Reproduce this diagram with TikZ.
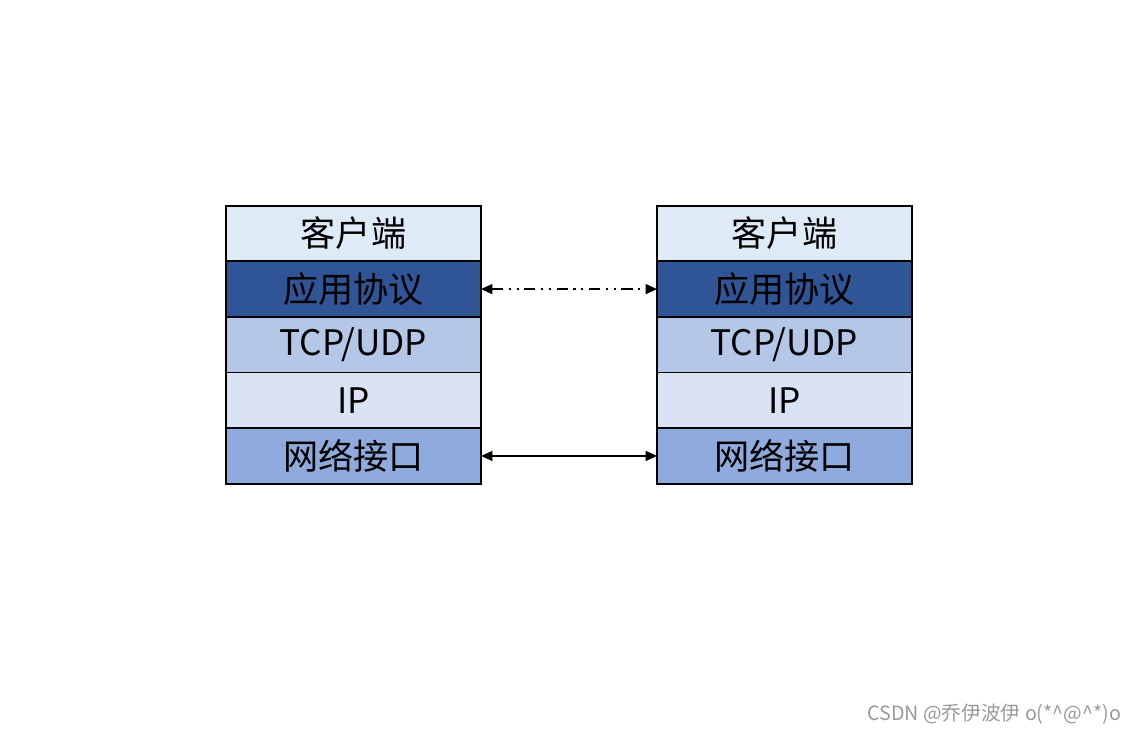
\documentclass[tikz,border=0pt]{standalone}
\usepackage{fontspec}
\setmainfont{Noto Sans CJK SC}
\usepackage{xcolor}
\usepackage{tikz}
\usetikzlibrary{arrows.meta,positioning}
\definecolor{clientc}{HTML}{DEEAF6}
\definecolor{appc}{HTML}{2F5597}
\definecolor{tcpc}{HTML}{B4C7E7}
\definecolor{ipc}{HTML}{DAE3F3}
\definecolor{netc}{HTML}{8FAADC}

\begin{document}
\begin{tikzpicture}[x=0.025cm,y=-0.025cm]
	\tikzstyle{layer} = [draw = black, line width = 1.2pt, minimum width = 6.375cm, minimum height = 1.39cm, inner sep = 0pt, outer sep = 0pt, font = \fontsize{25}{30}\selectfont]
	\tikzstyle{link} = [line width = 1.1pt, {Triangle[length=8pt,width=7pt]}-{Triangle[length=8pt,width=7pt]}]
\useasboundingbox (0,0) rectangle (1139,734);
% left stack
\node[layer, fill = clientc] (l1) at (353.5, 233.5) {客户端};
\node[layer, fill = appc, below = 0pt of l1] (l2) {应用协议};
\node[layer, fill = tcpc, below = 0pt of l2] (l3) {TCP/UDP};
\node[layer, fill = ipc, below = 0pt of l3] (l4) {IP};
\node[layer, fill = netc, below = 0pt of l4] (l5) {网络接口};
% right stack
\node[layer, fill = clientc] (r1) at (784.5, 233.5) {客户端};
\node[layer, fill = appc, below = 0pt of r1] (r2) {应用协议};
\node[layer, fill = tcpc, below = 0pt of r2] (r3) {TCP/UDP};
\node[layer, fill = ipc, below = 0pt of r3] (r4) {IP};
\node[layer, fill = netc, below = 0pt of r4] (r5) {网络接口};

	\path[draw, link, dash pattern = on 8pt off 4pt on 1.5pt off 4pt on 1.5pt off 4pt] (l2) -- (r2);
	\path[draw, link] (l5) -- (r5);

\node[anchor = east, text = black!40, font = \fontsize{14}{16}\selectfont] (mark) at (1126, 714) {CSDN @乔伊波伊 o(*\^{}@\^{}*)o};
	\end{tikzpicture}
\end{document}
